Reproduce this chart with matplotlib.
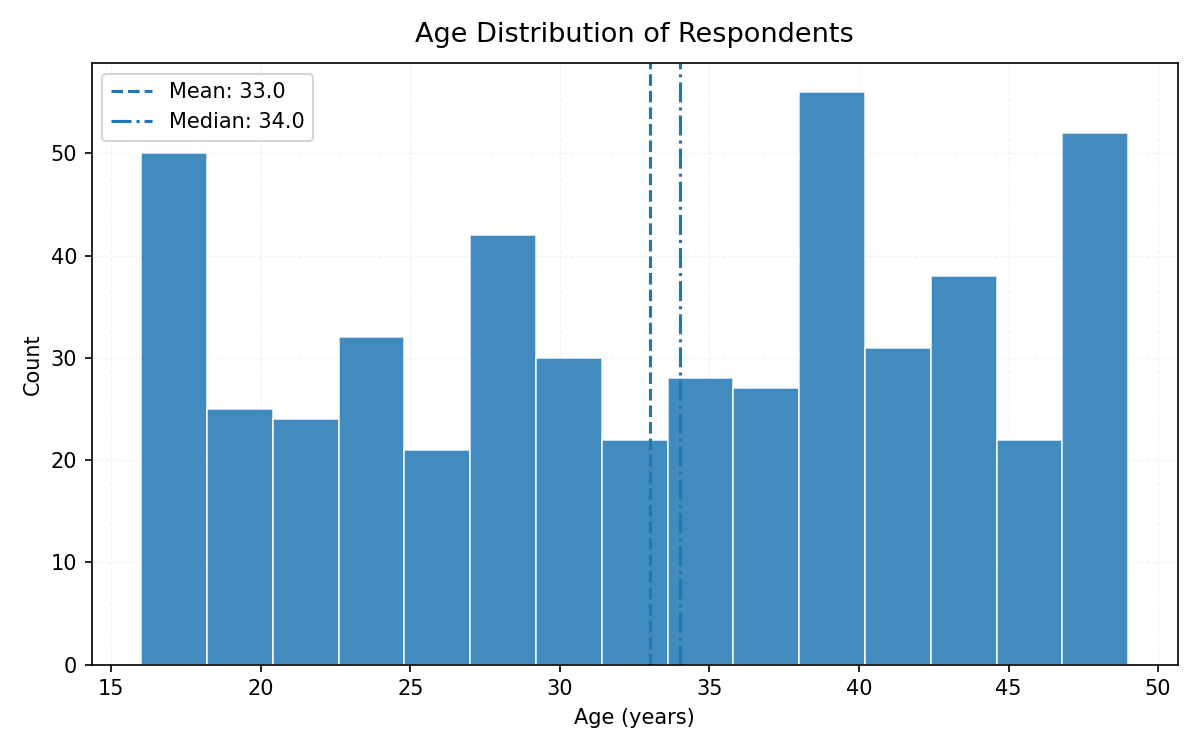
import numpy as np
import matplotlib.pyplot as plt

# histogram: 15 bins from 16 to 49
bin_edges = np.linspace(16, 49, 16)
counts = [50, 25, 24, 32, 21, 42, 30, 22, 28, 27, 56, 31, 38, 22, 52]
mean_age = 33.0
median_age = 34.0

fig, ax = plt.subplots(figsize=(8, 5), dpi=150)

ax.bar(bin_edges[:-1], counts, width=np.diff(bin_edges), align='edge',
       color='#1f77b4', alpha=0.85, edgecolor='white', linewidth=0.8)

ax.axvline(mean_age, color='#1f77b4', linestyle='--', linewidth=1.5,
           label=f'Mean: {mean_age:.1f}')
ax.axvline(median_age, color='#1f77b4', linestyle='-.', linewidth=1.5,
           label=f'Median: {median_age:.1f}')

ax.set_title('Age Distribution of Respondents', fontsize=13, pad=10)
ax.set_xlabel('Age (years)')
ax.set_ylabel('Count')
ax.grid(True, linestyle='--', linewidth=0.6, alpha=0.15)
ax.set_axisbelow(True)
ax.legend(loc='upper left')

fig.tight_layout()
fig.savefig('out.png')
